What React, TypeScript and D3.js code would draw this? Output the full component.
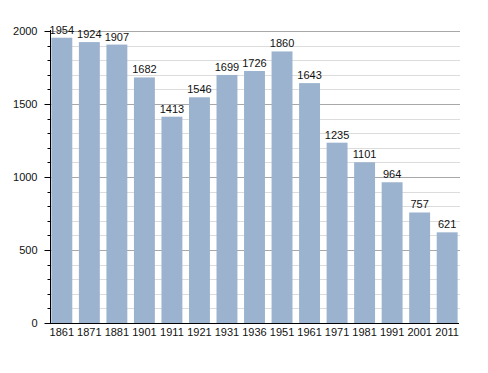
import { useEffect, useRef } from 'react';
import * as d3 from 'd3';

const years = ['1861', '1871', '1881', '1901', '1911', '1921', '1931', '1936', '1951', '1961', '1971', '1981', '1991', '2001', '2011'];
const population = [1954, 1924, 1907, 1682, 1413, 1546, 1699, 1726, 1860, 1643, 1235, 1101, 964, 757, 621];
const majorTicks = [0, 500, 1000, 1500, 2000];

export default function App(): JSX.Element {
  const svgRef = useRef<SVGSVGElement>(null);

  useEffect(() => {
    if (!svgRef.current) return;
    const svg = d3.select(svgRef.current);
    svg.selectAll('*').remove();

    const left = 50;
    const right = 459;
    const top = 31;
    const bottom = 323;

    const x = d3.scaleBand<string>()
      .domain(years)
      .range([left, right])
      .paddingInner(0.24)
      .paddingOuter(0.05);

    const y = d3.scaleLinear().domain([0, 2000]).range([bottom, top]);

    const minor = d3.range(100, 2001, 100).filter(v => v % 500 !== 0);

    // minor grid
    svg.append('g')
      .selectAll('line')
      .data(minor)
      .join('line')
      .attr('x1', left)
      .attr('x2', right + 1)
      .attr('y1', d => Math.round(y(d)) + 0.5)
      .attr('y2', d => Math.round(y(d)) + 0.5)
      .attr('stroke', '#dcdcdc');

    // major grid
    svg.append('g')
      .selectAll('line')
      .data(majorTicks.filter(d => d > 0))
      .join('line')
      .attr('x1', left)
      .attr('x2', right + 1)
      .attr('y1', d => Math.round(y(d)) + 0.5)
      .attr('y2', d => Math.round(y(d)) + 0.5)
      .attr('stroke', '#a8a8a8');

    // bars
    svg.append('g')
      .selectAll('rect')
      .data(population)
      .join('rect')
      .attr('x', (_, i) => x(years[i]) ?? 0)
      .attr('y', d => y(d))
      .attr('width', x.bandwidth())
      .attr('height', d => bottom - y(d))
      .attr('fill', '#9bb3cf');

    // value labels
    svg.append('g')
      .selectAll('text')
      .data(population)
      .join('text')
      .attr('x', (_, i) => (x(years[i]) ?? 0) + x.bandwidth() / 2)
      .attr('y', d => y(d) - 4)
      .attr('text-anchor', 'middle')
      .style('font-family', 'Liberation Sans, Arial, sans-serif')
      .style('font-size', '11px')
      .attr('fill', '#111')
      .text(d => d);

    // y axis
    const yAxis = svg.append('g').attr('transform', `translate(${left + 0.5},0)`);
    yAxis.append('line')
      .attr('y1', top - 1)
      .attr('y2', bottom)
      .attr('stroke', '#000');
    yAxis.selectAll('line.minor')
      .data(minor)
      .join('line')
      .attr('class', 'minor')
      .attr('x1', -3)
      .attr('x2', 0)
      .attr('y1', d => Math.round(y(d)) + 0.5)
      .attr('y2', d => Math.round(y(d)) + 0.5)
      .attr('stroke', '#000');
    yAxis.selectAll('line.major')
      .data(majorTicks)
      .join('line')
      .attr('class', 'major')
      .attr('x1', -6)
      .attr('x2', 0)
      .attr('y1', d => Math.round(y(d)) + 0.5)
      .attr('y2', d => Math.round(y(d)) + 0.5)
      .attr('stroke', '#000');
    yAxis.selectAll('text')
      .data(majorTicks)
      .join('text')
      .attr('x', -13)
      .attr('y', d => y(d) + 4)
      .attr('text-anchor', 'end')
      .style('font-family', 'Liberation Sans, Arial, sans-serif')
      .style('font-size', '11px')
      .attr('fill', '#111')
      .text(d => d);

    // x axis
    const xAxis = svg.append('g');
    xAxis.append('line')
      .attr('x1', left)
      .attr('x2', right)
      .attr('y1', bottom + 0.5)
      .attr('y2', bottom + 0.5)
      .attr('stroke', '#000');
    xAxis.selectAll('text')
      .data(years)
      .join('text')
      .attr('x', d => (x(d) ?? 0) + x.bandwidth() / 2)
      .attr('y', bottom + 13)
      .attr('text-anchor', 'middle')
      .style('font-family', 'Liberation Sans, Arial, sans-serif')
      .style('font-size', '11px')
      .attr('fill', '#111')
      .text(d => d);
  }, []);

  return (
    <svg
      ref={svgRef}
      width={488}
      height={373}
      style={{ position: 'absolute', left: 0, top: 0, background: '#fff' }}
    />
  );
}
